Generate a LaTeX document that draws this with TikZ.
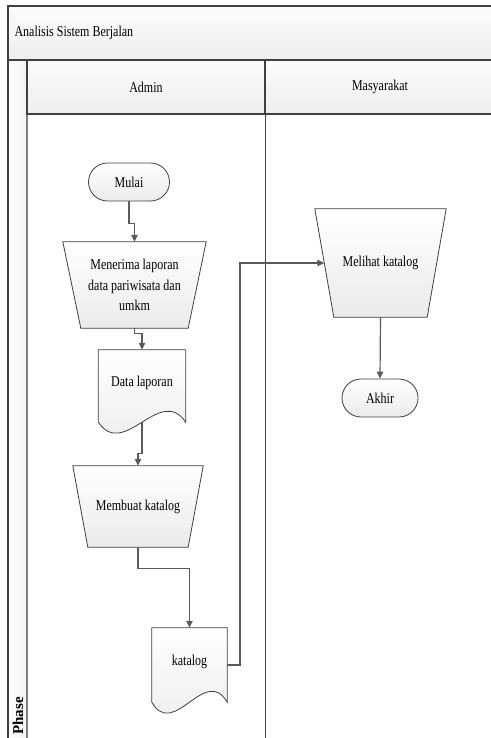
\documentclass[tikz,border=0pt]{standalone}
\usepackage{fontspec}
\setmainfont{Liberation Serif}[FakeStretch=0.8]
\newfontfamily\phasefont{Liberation Serif}
\usetikzlibrary{shapes.geometric,shapes.misc,arrows.meta,calc}
\definecolor{bordc}{HTML}{404040}
\definecolor{connc}{HTML}{5A5A5A}
\definecolor{hdrtop}{HTML}{FCFCFC}
\definecolor{hdrbot}{HTML}{EEEEEE}
\begin{document}
\begin{tikzpicture}[x=1pt,y=-1pt,
  every node/.style={font=\fontsize{15}{20.5}\selectfont, text=black},
  lane/.style={draw=bordc, line width=1.1pt, top color=hdrtop, bottom color=hdrbot},
  shp/.style={draw=bordc, line width=0.8pt, top color=white, bottom color=gray!16},
  term/.style={shp, rounded rectangle, minimum width=#1, minimum height=38pt, inner sep=0pt},
  box/.style={rectangle, align=center, inner sep=0pt},
  conn/.style={draw=connc, line width=1.2pt, -{Triangle[length=7pt,width=6.5pt]}},
]
\useasboundingbox (0,0) rectangle (490,738);
\fill[white] (0,0) rectangle (490,738);

% swimlane frame
\path[lane] (8,6) rectangle (500,60);
\node[anchor=west] (title) at (11,33) {Analisis Sistem Berjalan};
\path[lane, left color=white, right color=gray!10] (8,60) rectangle (27,745);
\draw[gray, line width=2pt] (27,60) -- (27,745);
\path[lane] (27,60) rectangle (265,114);
\path[lane] (265,60) rectangle (500,114);
\draw[bordc, line width=1pt] (265,114) -- (265,745);
\node (admin) at (146,87) {Admin};
\node (masy) at (380,87) {Masyarakat};
\node[rotate=90, font=\fontsize{15}{18}\phasefont\bfseries] (phase) at (18,716) {Phase};

% shape frames (invisible rectangles used as anchors)
\node[term=81pt] (mu) at (129,182) {Mulai};
\node[box, minimum width=143pt, minimum height=86pt] (t1) at (134.5,285) {};
\node[box, minimum width=87pt, minimum height=72pt] (dl) at (142,386) {};
\node[box, minimum width=130pt, minimum height=81pt] (t2) at (138,506.5) {};
\node[box, minimum width=75pt, minimum height=74pt] (k) at (189.5,665) {};
\node[box, minimum width=131pt, minimum height=108pt] (m) at (380.5,263) {};
\node[term=76pt] (ak) at (380,398) {Akhir};

% manual trapezoids
\path[shp] (t1.north west) -- (t1.north east) -- ([xshift=-18pt]t1.south east)
  -- ([xshift=18pt]t1.south west) -- cycle;
\node[box] (t1txt) at (t1) {Menerima laporan\\data pariwisata dan\\umkm};
\path[shp] (t2.north west) -- (t2.north east) -- ([xshift=-15pt]t2.south east)
  -- ([xshift=15pt]t2.south west) -- cycle;
\node[box] (t2txt) at (t2) {Membuat katalog};
\path[shp] (m.north west) -- (m.north east) -- ([xshift=-19pt]m.south east)
  -- ([xshift=19pt]m.south west) -- cycle;
\node[box] (mtxt) at (m) {Melihat katalog};
\coordinate (min) at ($(m.west)+(9.5,0)$);

% document shapes
\path[shp] (dl.south west) -- (dl.north west) -- (dl.north east) -- (dl.south east)
  .. controls +(-26,-38) and +(26,38) .. (dl.south west) -- cycle;
\node[box] (dltxt) at ([yshift=3pt]dl.center) {Data laporan};
\path[shp] (k.south west) -- (k.north west) -- (k.north east) -- (k.south east)
  .. controls +(-22,-38) and +(22,38) .. (k.south west) -- cycle;
\node[box] (ktxt) at ([yshift=3pt]k.center) {katalog};

% connectors
\draw[conn] (mu.south) -- ++(0,22) -| (t1.north);
\draw[conn] (t1.south) -- ++(0,5) -| (dl.north);
\draw[conn] (dl.south) -- ++(0,31) -| (t2.north);
\draw[conn] (t2.south) -- ++(0,21) -| (k.north);
\coordinate (kj) at (240,665);
\draw[conn] (k.east) -- (kj) |- (min);
\draw[conn] (m.south) -- (ak.north);
\end{tikzpicture}
\end{document}
